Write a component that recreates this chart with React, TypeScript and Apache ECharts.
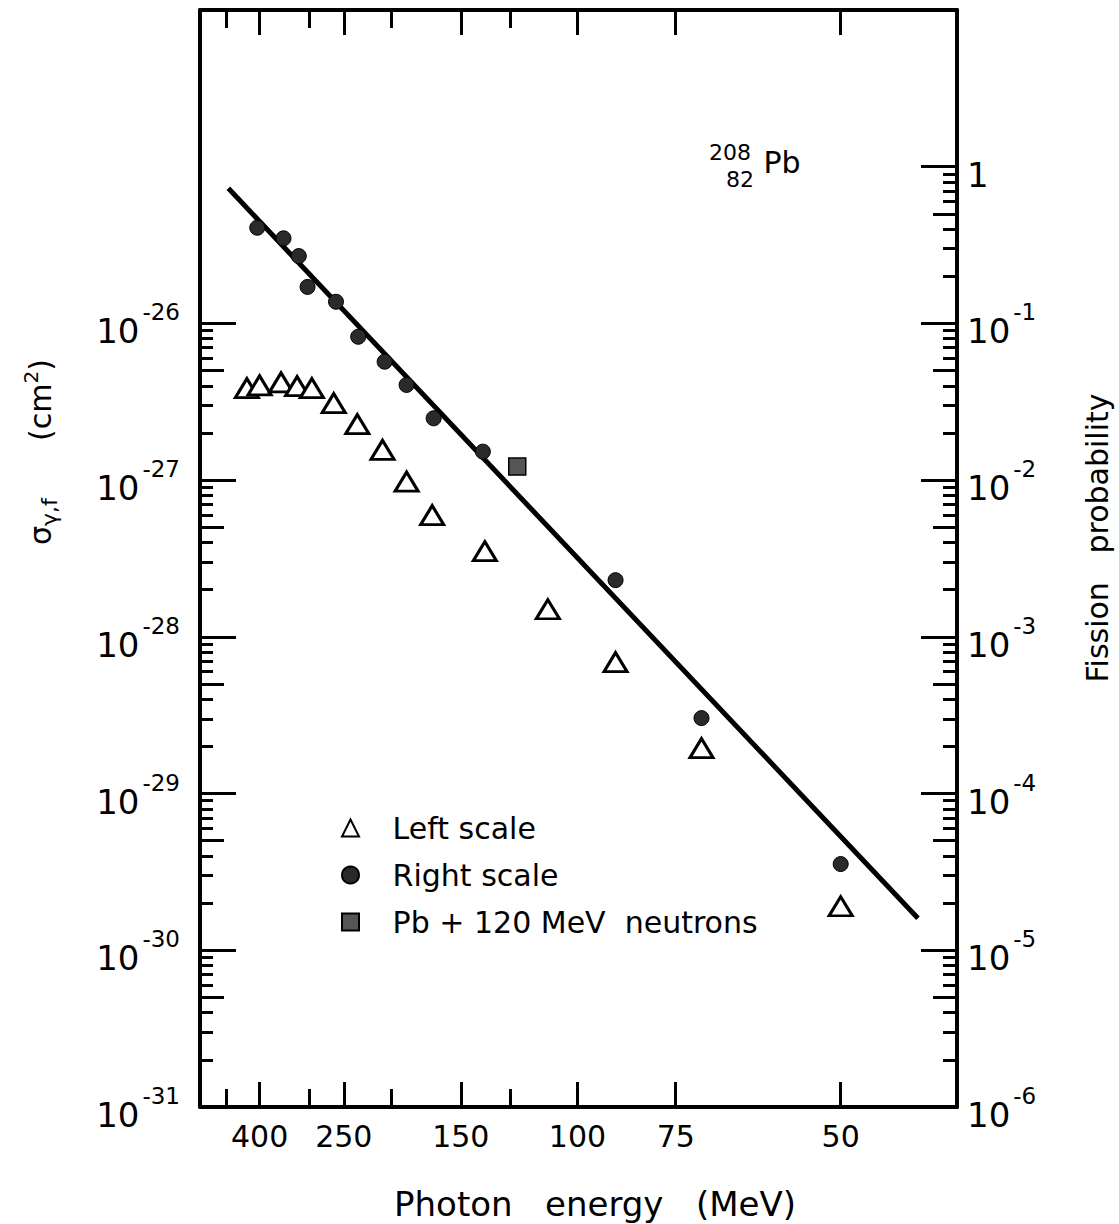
import React, { useEffect, useRef } from "react";
import * as echarts from "echarts";

// ---- data (photon energy in MeV) ----
const leftEnergy = [434, 400, 351, 320, 295, 263, 234, 208, 187, 168, 137, 110, 89, 70, 50];
const leftSigma = [3.87e-27, 4.03e-27, 4.21e-27, 3.98e-27, 3.87e-27, 3.1e-27, 2.28e-27, 1.56e-27, 9.8e-28, 5.98e-28, 3.52e-28, 1.5e-28, 6.9e-29, 1.95e-29, 1.91e-30];
const rightEnergy = [406, 346, 317, 302, 260, 233, 206, 187, 167, 138, 89, 70, 50];
const rightProb = [0.408, 0.349, 0.269, 0.171, 0.1375, 0.0822, 0.057, 0.0405, 0.0248, 0.0152, 0.0023, 3.03e-4, 3.55e-5];
const neutronEnergy = [122];
const neutronProb = [0.0122];
const fitEnergy = [492, 42.4];
const fitProb = [0.728, 1.6e-5];

const energyEdges = [606, 39.2];
const labeledEnergyTicks = [400, 250, 150, 100, 75, 50];
const minorEnergyTicks = [500, 300, 200, 125];
const leftDecades = [-31, -30, -29, -28, -27, -26];
const rightDecades = [-6, -5, -4, -3, -2, -1, 0];
const midMultiplier = [5];
const minorMultipliers = [2, 3, 4, 6, 7, 8, 9];

const FONT = "DejaVu Sans";
const u = (e: number) => 1 / Math.sqrt(e);

const subTicks = (decades: number[], ks: number[]) => {
  const out: number[] = [];
  decades.slice(0, -1).forEach((n) => ks.forEach((k) => out.push(n + Math.log10(k))));
  return out;
};

const expRich = {
  b: { fontSize: 34, fontFamily: FONT, color: "#000", padding: [16, 0, 0, 0] },
  s: { fontSize: 23, fontFamily: FONT, color: "#000", padding: [0, 0, 22, 3] },
};
const expFormatter = (v: number) => (Math.round(v) === 0 ? "{b|1}" : `{b|10}{s|${Math.round(v)}}`);

const tickLine = { show: true, lineStyle: { color: "#000", width: 3 } };
const noLine = { show: false, onZero: false };
const frameLine = { show: true, onZero: false, lineStyle: { color: "#000", width: 4 } };

function buildOption() {
  const uMin = u(energyEdges[0]);
  const uMax = u(energyEdges[1]);
  const xBase = { type: "value", min: uMin, max: uMax, splitLine: { show: false } };
  const xAxis = [
    {
      ...xBase,
      position: "bottom",
      axisLine: frameLine,
      axisTick: { ...tickLine, inside: true, length: 25, customValues: labeledEnergyTicks.map(u) },
      axisLabel: {
        customValues: labeledEnergyTicks.map(u),
        formatter: (v: number) => String(Math.round(1 / (v * v))),
        fontSize: 30,
        fontFamily: FONT,
        color: "#000",
        margin: 14,
      },
    },
    {
      ...xBase,
      position: "bottom",
      axisLine: noLine,
      axisTick: { ...tickLine, inside: true, length: 18, customValues: minorEnergyTicks.map(u) },
      axisLabel: { show: false },
    },
    {
      ...xBase,
      position: "top",
      axisLine: frameLine,
      axisTick: { ...tickLine, inside: true, length: 25, customValues: labeledEnergyTicks.map(u) },
      axisLabel: { show: false },
    },
    {
      ...xBase,
      position: "top",
      axisLine: noLine,
      axisTick: { ...tickLine, inside: true, length: 18, customValues: minorEnergyTicks.map(u) },
      axisLabel: { show: false },
    },
  ];

  const yTickAxis = (pos: string, min: number, max: number, ticks: number[], len: number, line: boolean, labels: boolean, margin: number) => ({
    type: "value",
    position: pos,
    min,
    max,
    splitLine: { show: false },
    axisLine: line ? frameLine : noLine,
    axisTick: { ...tickLine, inside: true, length: len, customValues: ticks },
    axisLabel: labels
      ? { customValues: ticks, formatter: expFormatter, rich: expRich, margin, align: pos === "left" ? "right" : "left" }
      : { show: false },
  });

  const yAxis = [
    { type: "log", position: "left", min: 1e-31, max: 1e-24, show: false },
    { type: "log", position: "right", min: 1e-6, max: 1e1, show: false },
    yTickAxis("left", -31, -24, leftDecades, 36, true, true, 20),
    yTickAxis("left", -31, -24, subTicks(leftDecades, midMultiplier), 24, false, false, 0),
    yTickAxis("left", -31, -24, subTicks(leftDecades, minorMultipliers), 13, false, false, 0),
    yTickAxis("right", -6, 1, rightDecades, 36, true, true, 10),
    yTickAxis("right", -6, 1, subTicks(rightDecades, midMultiplier), 24, false, false, 0),
    yTickAxis("right", -6, 1, subTicks(rightDecades, minorMultipliers), 14, false, false, 0),
  ];

  return {
    animation: false,
    backgroundColor: "#fff",
    grid: { left: 200, top: 10, width: 757, height: 1097, containLabel: false, outerBoundsMode: "none" },
    xAxis,
    yAxis,
    legend: {
      orient: "vertical",
      left: 336,
      top: 807,
      itemWidth: 17,
      itemHeight: 17,
      itemGap: 15,
      selectedMode: false,
      formatter: (name: string) => "   " + name,
      textStyle: { fontSize: 30, lineHeight: 32, fontFamily: FONT, color: "#000" },
      data: [
        { name: "Left scale", icon: "triangle" },
        { name: "Right scale", icon: "circle" },
        { name: "Pb + 120 MeV  neutrons", icon: "rect" },
      ],
    },
    series: [
      {
        name: "fit",
        type: "line",
        xAxisIndex: 0,
        yAxisIndex: 1,
        showSymbol: false,
        z: 1,
        lineStyle: { color: "#000", width: 5 },
        data: fitEnergy.map((e, i) => [u(e), fitProb[i]]),
      },
      {
        name: "Left scale",
        type: "scatter",
        xAxisIndex: 0,
        yAxisIndex: 0,
        symbol: "triangle",
        symbolSize: [23, 19],
        z: 3,
        itemStyle: { color: "#fff", borderColor: "#000", borderWidth: 3, opacity: 1 },
        data: leftEnergy.map((e, i) => [u(e), leftSigma[i]]),
      },
      {
        name: "Right scale",
        type: "scatter",
        xAxisIndex: 0,
        yAxisIndex: 1,
        symbol: "circle",
        symbolSize: 15,
        z: 3,
        itemStyle: { color: "#2a2a2a", borderColor: "#000", borderWidth: 1, opacity: 1 },
        data: rightEnergy.map((e, i) => [u(e), rightProb[i]]),
      },
      {
        name: "Pb + 120 MeV  neutrons",
        type: "scatter",
        xAxisIndex: 0,
        yAxisIndex: 1,
        symbol: "rect",
        symbolSize: 17,
        z: 3,
        itemStyle: { color: "#555", borderColor: "#000", borderWidth: 1.5, opacity: 1 },
        data: neutronEnergy.map((e, i) => [u(e), neutronProb[i]]),
      },
    ],
    graphic: [
      {
        type: "text",
        x: 595,
        y: 1204,
        style: { text: "Photon   energy   (MeV)", font: `34px "${FONT}"`, fill: "#000", align: "center", verticalAlign: "middle" },
      },
      {
        type: "text",
        x: 40,
        y: 452,
        rotation: Math.PI / 2,
        style: {
          text: "{g|σ}{sub|γ,f}{a|      (cm}{sup|2}{a|)}",
          align: "center",
          verticalAlign: "middle",
          rich: {
            g: { fontSize: 30, fontFamily: FONT, fill: "#000" },
            a: { fontSize: 30, fontFamily: FONT, fill: "#000" },
            sub: { fontSize: 22, fontFamily: FONT, fill: "#000", padding: [18, 0, 0, 0] },
            sup: { fontSize: 20, fontFamily: FONT, fill: "#000", padding: [0, 0, 18, 0] },
          },
        },
      },
      {
        type: "text",
        x: 1097,
        y: 538,
        rotation: Math.PI / 2,
        style: { text: "Fission   probability", font: `30px "${FONT}"`, fill: "#000", align: "center", verticalAlign: "middle" },
      },
      {
        type: "text",
        x: 730,
        y: 152,
        style: { text: "208", font: `22px "${FONT}"`, fill: "#000", align: "center", verticalAlign: "middle" },
      },
      {
        type: "text",
        x: 740,
        y: 179,
        style: { text: "82", font: `22px "${FONT}"`, fill: "#000", align: "center", verticalAlign: "middle" },
      },
      {
        type: "text",
        x: 782,
        y: 162,
        style: { text: "Pb", font: `30px "${FONT}"`, fill: "#000", align: "center", verticalAlign: "middle" },
      },
    ],
  };
}

export default function App() {
  const ref = useRef<HTMLDivElement>(null);
  useEffect(() => {
    const chart = echarts.init(ref.current!, null, { renderer: "svg" });
    chart.setOption(buildOption() as any);
    return () => chart.dispose();
  }, []);
  return <div ref={ref} style={{ position: "absolute", left: 0, top: 0, width: 1119, height: 1224 }} />;
}
